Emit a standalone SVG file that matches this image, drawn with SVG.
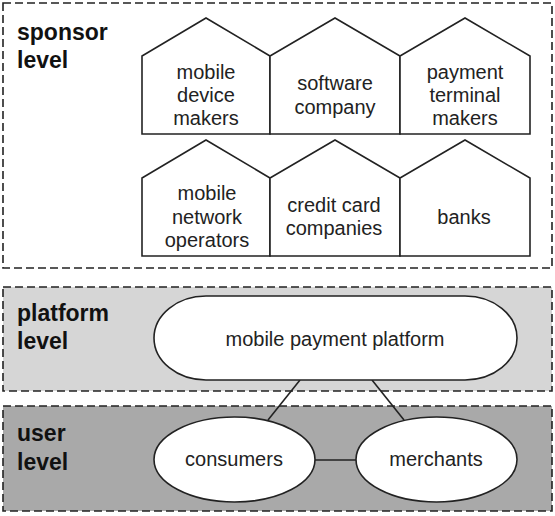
<svg xmlns="http://www.w3.org/2000/svg" width="555" height="516" viewBox="0 0 555 516">
<style>
.lvl{stroke:#222;stroke-width:1.6;stroke-dasharray:8 4}
.house{fill:#fff;stroke:#222;stroke-width:1.6;stroke-linejoin:miter}
.node{fill:#fff;stroke:#222;stroke-width:1.6}
.t{font-family:"Liberation Sans",Arial,sans-serif;font-size:20px;fill:#222;text-anchor:middle}
.lb{font-family:"Liberation Sans",Arial,sans-serif;font-size:23px;font-weight:bold;fill:#111}
.edge{stroke:#222;stroke-width:1.6;fill:none}
</style>
<rect width="555" height="516" fill="#fff"/>
<g id="sponsor-level">
<rect class="lvl" x="3" y="3" width="549" height="265" fill="#fff"/>
<text class="lb" x="17" y="40">sponsor</text>
<text class="lb" x="17" y="68">level</text>
</g>
<g id="platform-level">
<rect class="lvl" x="3" y="287" width="549" height="104" fill="#d6d6d6"/>
<text class="lb" x="17" y="321">platform</text>
<text class="lb" x="17" y="349">level</text>
</g>
<g id="user-level">
<rect class="lvl" x="3" y="406" width="549" height="105" fill="#a9a9a9"/>
<text class="lb" x="17" y="441">user</text>
<text class="lb" x="17" y="470">level</text>
</g>
<g id="connectors">
<line class="edge" x1="300" y1="380" x2="268" y2="420"/>
<line class="edge" x1="372" y1="380" x2="404" y2="420"/>
<line class="edge" x1="315" y1="460" x2="356" y2="460"/>
</g>
<g id="mobile-device-makers">
<polygon class="house" points="142,134 142,56 206,18 270,56 270,134"/>
<text class="t" x="206" y="79">mobile</text>
<text class="t" x="206" y="102">device</text>
<text class="t" x="206" y="125">makers</text>
</g>
<g id="software-company">
<polygon class="house" points="270,134 270,56 335,18 400,56 400,134"/>
<text class="t" x="335" y="90">software</text>
<text class="t" x="335" y="114">company</text>
</g>
<g id="payment-terminal-makers">
<polygon class="house" points="400,134 400,56 465,18 530,56 530,134"/>
<text class="t" x="465" y="79">payment</text>
<text class="t" x="465" y="102">terminal</text>
<text class="t" x="465" y="125">makers</text>
</g>
<g id="mobile-network-operators">
<polygon class="house" points="142,256 142,178 206,140 270,178 270,256"/>
<text class="t" x="207" y="200">mobile</text>
<text class="t" x="207" y="224">network</text>
<text class="t" x="207" y="247">operators</text>
</g>
<g id="credit-card-companies">
<polygon class="house" points="270,256 270,178 335,140 400,178 400,256"/>
<text class="t" x="334" y="212">credit card</text>
<text class="t" x="334" y="235">companies</text>
</g>
<g id="banks">
<polygon class="house" points="400,256 400,178 465,140 530,178 530,256"/>
<text class="t" x="464" y="224">banks</text>
</g>
<g id="mobile-payment-platform">
<rect class="node" x="154" y="296" width="363" height="84" rx="52" ry="42"/>
<text class="t" x="335" y="346">mobile payment platform</text>
</g>
<g id="consumers">
<ellipse class="node" cx="234.5" cy="459.5" rx="80.5" ry="42.5"/>
<text class="t" x="234" y="466">consumers</text>
</g>
<g id="merchants">
<ellipse class="node" cx="436.5" cy="459.5" rx="80.5" ry="42.5"/>
<text class="t" x="436" y="466">merchants</text>
</g>
</svg>
